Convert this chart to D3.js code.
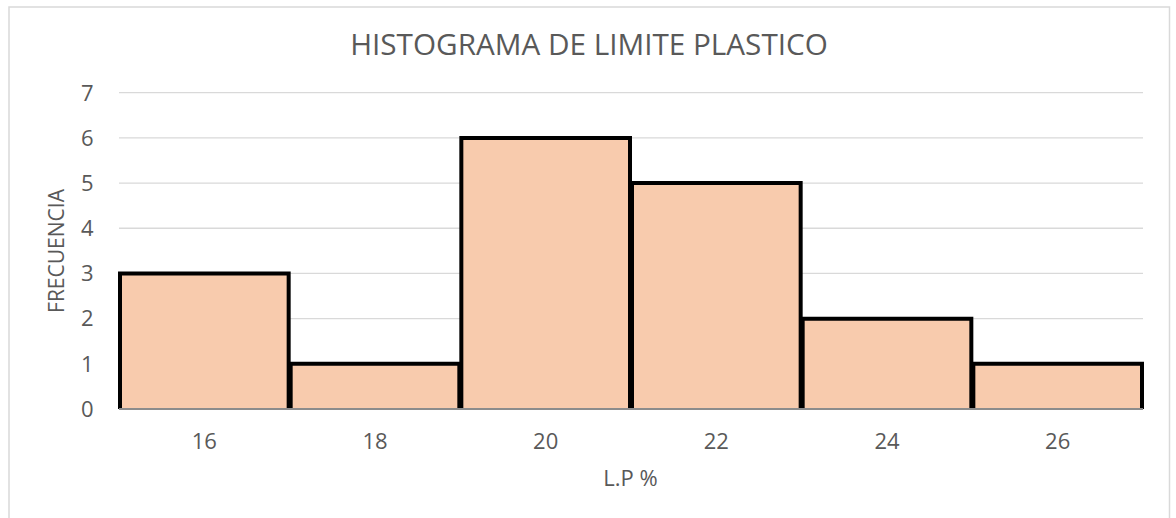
<!DOCTYPE html>
<html>
<head>
<meta charset="utf-8">
<script src="https://cdn.jsdelivr.net/npm/d3@7"></script>
<style>
  html, body { margin: 0; padding: 0; background: #ffffff; }
  svg { display: block; font-family: "Open Sans", Lato, sans-serif; }
</style>
</head>
<body>
<svg id="chart" width="1176" height="518"></svg>
<script>
// Histogram bins of plastic limit (%)
const binStarts  = [15, 17, 19, 21, 23, 25];
const binEnds    = [17, 19, 21, 23, 25, 27];
const binCenters = [16, 18, 20, 22, 24, 26];
const binLabels  = ["16", "18", "20", "22", "24", "26"];
const counts     = [3, 1, 6, 5, 2, 1];
const yTicks     = [0, 1, 2, 3, 4, 5, 6, 7];

const titleText = "HISTOGRAMA DE LIMITE PLASTICO";
const xTitle = "L.P %";
const yTitle = "FRECUENCIA";

const svg = d3.select("#chart");
const plot = { left: 119, right: 1143, top: 92.7, bottom: 409 };
const textColor = "#595959";
const labelSize = 22;

// outer chart frame
svg.append("rect")
  .attr("x", 9).attr("y", 7)
  .attr("width", 1160.5).attr("height", 540)
  .attr("fill", "#ffffff")
  .attr("stroke", "#d9d9d9").attr("stroke-width", 1.5);

const x = d3.scaleLinear().domain([15, 27]).range([plot.left, plot.right]);
const y = d3.scaleLinear().domain([0, 7]).range([plot.bottom, plot.top]);

// horizontal gridlines
svg.append("g").selectAll("line")
  .data(yTicks.filter(d => d > 0))
  .join("line")
  .attr("x1", plot.left).attr("x2", plot.right)
  .attr("y1", d => y(d)).attr("y2", d => y(d))
  .attr("stroke", "#d9d9d9").attr("stroke-width", 1.3);

// y tick labels
svg.append("g").selectAll("text")
  .data(yTicks)
  .join("text")
  .attr("x", 93.5).attr("y", d => y(d))
  .attr("dy", "0.357em")
  .attr("text-anchor", "end")
  .attr("font-size", labelSize)
  .attr("fill", textColor)
  .text(d => d);

// bars: fill, then outline on the left, top and right sides
const bars = binStarts.map((s, i) => ({ x0: s, x1: binEnds[i], n: counts[i] }));
svg.append("g").selectAll("rect")
  .data(bars)
  .join("rect")
  .attr("x", d => x(d.x0)).attr("y", d => y(d.n))
  .attr("width", d => x(d.x1) - x(d.x0))
  .attr("height", d => y(0) - y(d.n))
  .attr("fill", "#f8cbad");

svg.append("g").selectAll("path")
  .data(bars)
  .join("path")
  .attr("d", d => `M${x(d.x0) + 1},${y(0)}V${y(d.n)}H${x(d.x1) - 1}V${y(0)}`)
  .attr("fill", "none")
  .attr("stroke", "#000000")
  .attr("stroke-width", 4)
  .attr("stroke-linejoin", "miter");

// baseline axis
svg.append("line")
  .attr("x1", plot.left).attr("x2", plot.right)
  .attr("y1", plot.bottom).attr("y2", plot.bottom)
  .attr("stroke", "#8c8c8c").attr("stroke-width", 2);

// x tick labels at bin centres
svg.append("g").selectAll("text")
  .data(binCenters)
  .join("text")
  .attr("x", d => x(d)).attr("y", 449)
  .attr("text-anchor", "middle")
  .attr("font-size", labelSize)
  .attr("fill", textColor)
  .text((d, i) => binLabels[i]);

// chart title, sized to span its line
const title = svg.append("text")
  .attr("x", 589).attr("y", 55)
  .attr("text-anchor", "middle")
  .attr("font-size", 29)
  .attr("fill", textColor)
  .text(titleText);
const tl = title.node().getComputedTextLength();
title.attr("font-size", 29 * 478 / tl);

// axis titles
svg.append("text")
  .attr("x", 630.5).attr("y", 486)
  .attr("text-anchor", "middle")
  .attr("font-size", labelSize)
  .attr("fill", textColor)
  .text(xTitle);

const yt = svg.append("text")
  .attr("transform", "translate(56.5,251) rotate(-90)")
  .attr("dy", "0.357em")
  .attr("text-anchor", "middle")
  .attr("font-size", labelSize)
  .attr("fill", textColor)
  .text(yTitle);
const yl = yt.node().getComputedTextLength();
yt.attr("font-size", labelSize * 124 / yl);
</script>
</body>
</html>
